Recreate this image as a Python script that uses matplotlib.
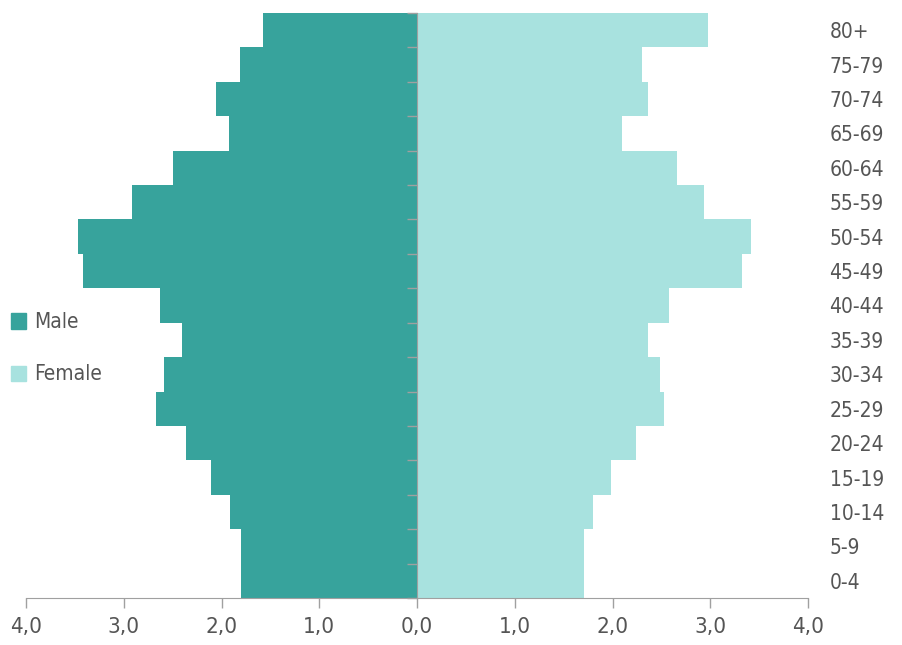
"""
Population pyramid: share of population by five-year age group, male vs female.
"""
import matplotlib
matplotlib.use("Agg")
import matplotlib.pyplot as plt
import matplotlib.patches as mpatches
import numpy as np

age_groups = ["0-4", "5-9", "10-14", "15-19", "20-24", "25-29", "30-34", "35-39",
              "40-44", "45-49", "50-54", "55-59", "60-64", "65-69", "70-74", "75-79", "80+"]
male = [1.80, 1.80, 1.91, 2.11, 2.36, 2.67, 2.59, 2.40,
        2.63, 3.42, 3.47, 2.92, 2.50, 1.92, 2.06, 1.81, 1.58]
female = [1.71, 1.71, 1.80, 1.98, 2.24, 2.53, 2.49, 2.36,
          2.58, 3.32, 3.42, 2.94, 2.66, 2.10, 2.36, 2.30, 2.98]
x_ticks = [-4, -3, -2, -1, 0, 1, 2, 3, 4]

MALE_COLOR = "#37A39C"
FEMALE_COLOR = "#A8E2DF"
TEXT_COLOR = "#555555"
AXIS_COLOR = "#A0A0A0"

plt.rcParams["font.family"] = ["DejaVu Sans"]
plt.rcParams["font.stretch"] = "condensed"

fig = plt.figure(figsize=(9.03, 6.45), dpi=100)
ax = fig.add_axes([0.0288, 0.0729, 0.866, 0.907])

y = np.arange(len(age_groups))
ax.barh(y, -np.array(male), height=1.0, color=MALE_COLOR, linewidth=0)
ax.barh(y, female, height=1.0, color=FEMALE_COLOR, linewidth=0)

ax.set_xlim(-4, 4)
ax.set_ylim(-0.5, len(age_groups) - 0.5)

# x axis: absolute values with decimal comma
ax.set_xticks(x_ticks)
ax.set_xticklabels([f"{abs(v):.1f}".replace(".", ",") for v in x_ticks])
ax.tick_params(axis="x", length=7, width=1, color=AXIS_COLOR, labelsize=16,
               labelcolor=TEXT_COLOR, pad=7)

# y axis: spine at zero with boundary ticks, age labels on the right
ax.spines["left"].set_position(("data", 0))
ax.spines["left"].set_color(AXIS_COLOR)
ax.spines["bottom"].set_color(AXIS_COLOR)
ax.spines["right"].set_visible(False)
ax.spines["top"].set_visible(False)
ax.set_yticks(y)
ax.set_yticklabels(age_groups)
ax.set_yticks(np.arange(-0.5, len(age_groups)), minor=True)
ax.tick_params(axis="y", which="major", left=False, right=False,
               labelleft=False, labelright=True, labelsize=15,
               labelcolor=TEXT_COLOR, pad=12)
ax.tick_params(axis="y", which="minor", left=True, right=False, length=7,
               width=1, color=AXIS_COLOR, direction="out")
for lbl in ax.get_yticklabels():
    lbl.set_horizontalalignment("left")

handles = [mpatches.Patch(color=MALE_COLOR, label="Male"),
           mpatches.Patch(color=FEMALE_COLOR, label="Female")]
fig.legend(handles=handles, loc="center left", bbox_to_anchor=(0.012, 0.46),
           frameon=False, fontsize=15, labelcolor=TEXT_COLOR,
           borderpad=0, borderaxespad=0,
           handlelength=0.75, handleheight=0.75, handletextpad=0.35,
           labelspacing=1.55)

fig.savefig("out.png", dpi=100)
